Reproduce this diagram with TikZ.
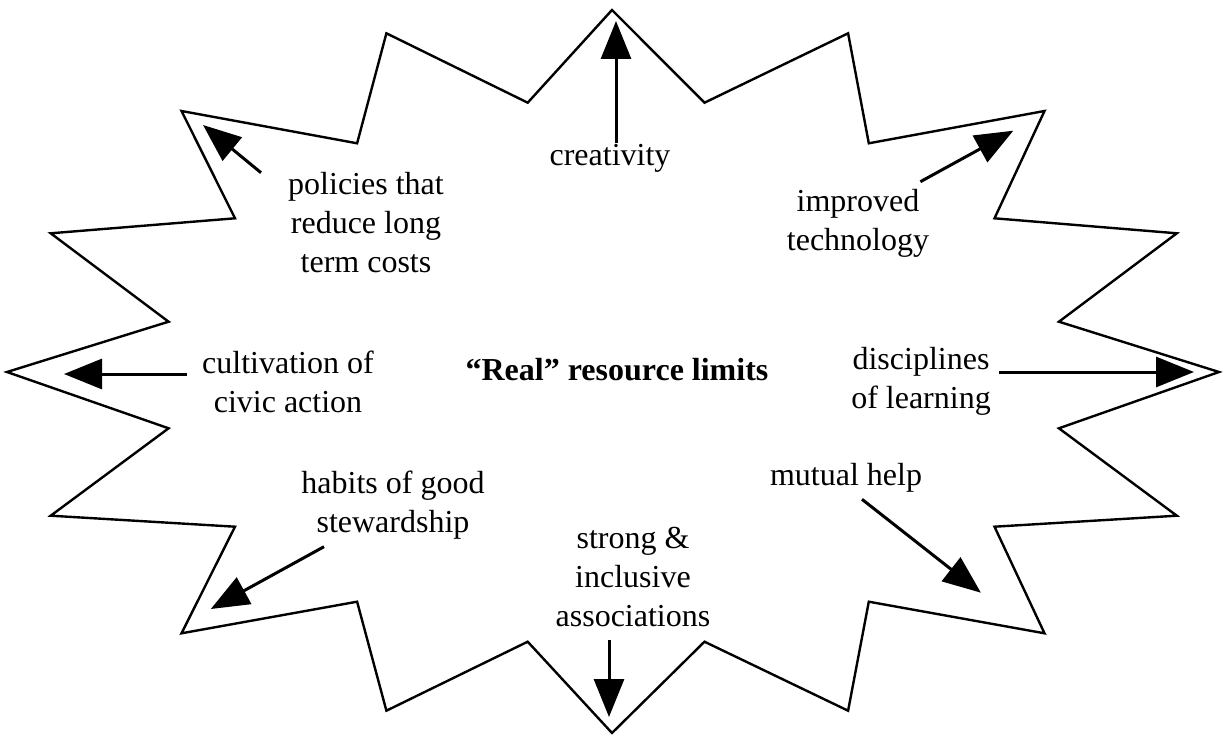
\documentclass[tikz,border=0pt]{standalone}
\usepackage{fontspec}
\setmainfont{Liberation Serif}
\usetikzlibrary{arrows.meta}
\tikzset{
  lbl/.style={inner sep=0pt, align=center, font=\fontsize{32}{39}\selectfont},
  ttl/.style={inner sep=0pt, font=\fontsize{32}{39}\selectfont\bfseries},
  starline/.style={line width=2.4pt, line join=miter, miter limit=20},
  bigarrow/.style={line width=3pt, -{Triangle[length=38pt,width=30pt]}}
}
\begin{document}
\begin{tikzpicture}[x=1pt,y=-1pt]
\useasboundingbox (0,0) rectangle (1224,741);
\fill[white] (0,0) rectangle (1224,741);
% star outline
\draw[starline] (612,10) -- (704.5,102.7) -- (848.1,33.3) -- (868.8,143.3) -- (1044.5,111)
  -- (994.5,218.3) -- (1176.8,233.3) -- (1058.9,321.7) -- (1219,372)
  -- (1058.9,428.3) -- (1176.8,515.7) -- (994.5,526.7) -- (1044.5,633.3)
  -- (868.8,601.7) -- (848.1,710.7) -- (704.5,641.7) -- (612,733)
  -- (527.7,641.7) -- (386.4,710.7) -- (357.1,601.7) -- (181.5,633.3)
  -- (235,526.7) -- (50.7,515.7) -- (168.6,428.3) -- (7,372)
  -- (168.6,321.7) -- (50.7,233.3) -- (235,218.3) -- (181.5,111)
  -- (357.1,143.3) -- (386.4,33.3) -- (527.7,102.7) -- cycle;
% texts
\node[ttl] (title) at (617,370) {“Real” resource limits};
\node[lbl] (creat) at (610,158) {creativity};
\node[lbl] (pol) at (366,223) {policies that\\reduce long\\term costs};
\node[lbl] (tech) at (858,223) {improved\\technology};
\node[lbl] (civ) at (288,382) {cultivation of\\civic action};
\node[lbl] (disc) at (921,381) {disciplines\\of learning};
\node[lbl] (hab) at (393,505) {habits of good\\stewardship};
\node[lbl] (assoc) at (633,577) {strong \&\\inclusive\\associations};
\node[lbl] (mut) at (846,478) {mutual help};
% arrow end points
\coordinate (a1s) at (616,143);  \coordinate (a1e) at (616,21);
\coordinate (a2s) at (261,172.7); \coordinate (a2e) at (203,125);
\coordinate (a3s) at (920.4,181.7); \coordinate (a3e) at (1013.3,130.7);
\coordinate (a4s) at (187,374); \coordinate (a4e) at (64,374);
\coordinate (a5s) at (999,372); \coordinate (a5e) at (1194,372);
\coordinate (a6s) at (324,546.7); \coordinate (a6e) at (210.8,609);
\coordinate (a7s) at (609,640); \coordinate (a7e) at (609,717);
\coordinate (a8s) at (862,499.3); \coordinate (a8e) at (980.9,592.7);
\draw[bigarrow] (a1s) -- (a1e);
\draw[bigarrow] (a2s) -- (a2e);
\draw[bigarrow] (a3s) -- (a3e);
\draw[bigarrow] (a4s) -- (a4e);
\draw[bigarrow] (a5s) -- (a5e);
\draw[bigarrow] (a6s) -- (a6e);
\draw[bigarrow] (a7s) -- (a7e);
\draw[bigarrow] (a8s) -- (a8e);
\end{tikzpicture}
\end{document}
